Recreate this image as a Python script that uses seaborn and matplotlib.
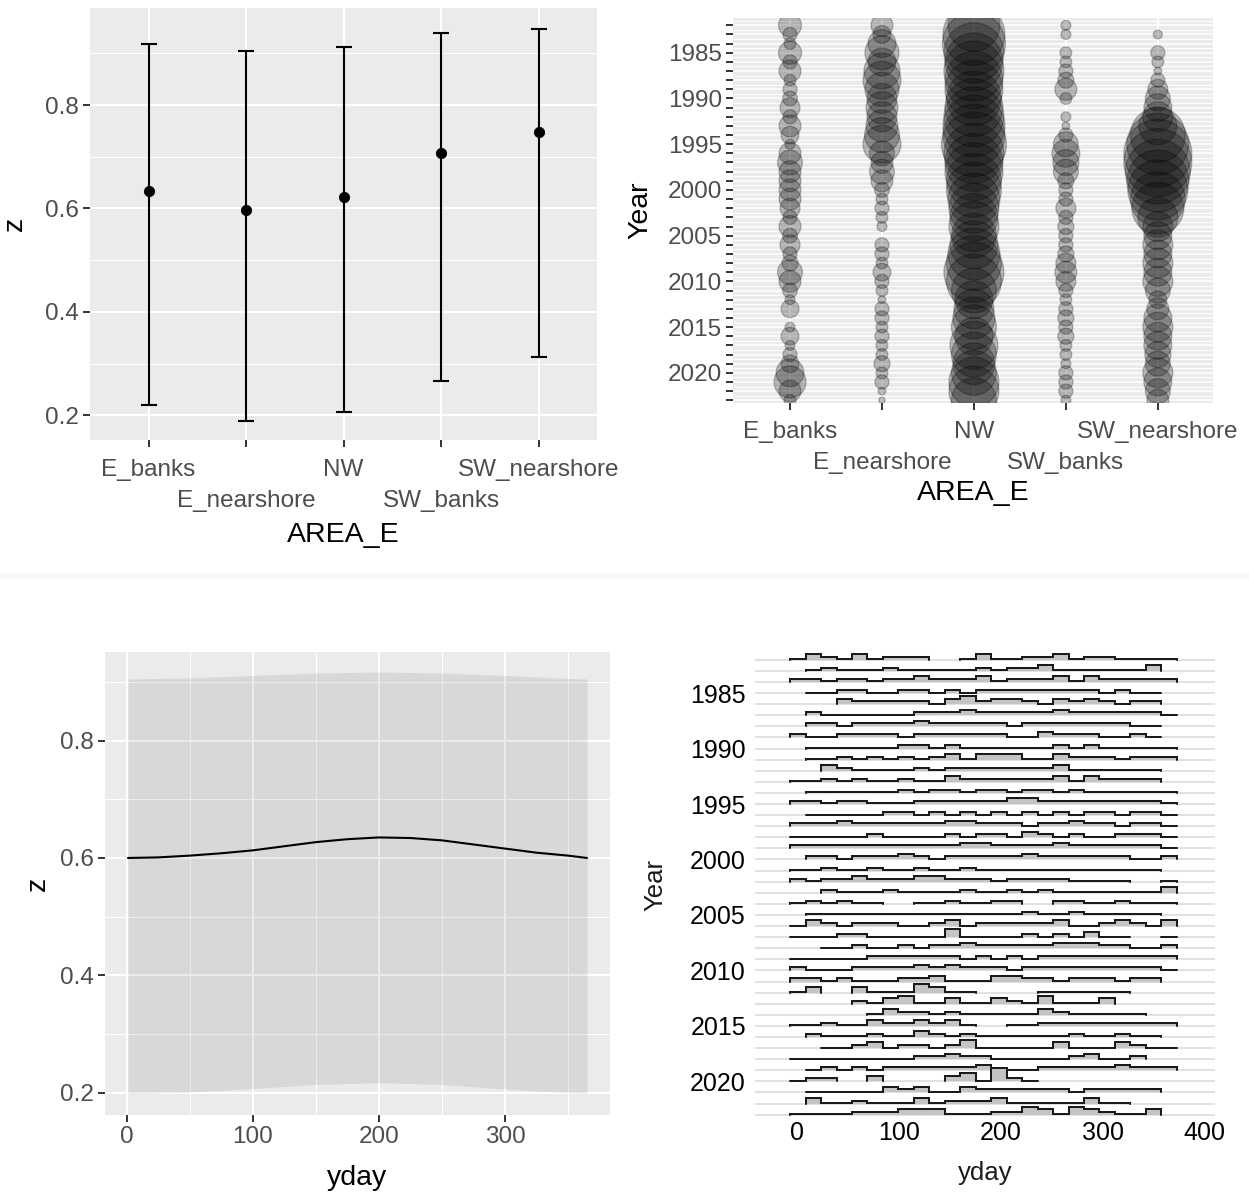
import numpy as np
import pandas as pd
import matplotlib.pyplot as plt
import seaborn as sns
from matplotlib.ticker import MultipleLocator, FixedLocator, FuncFormatter

#==============================================================================
# Data

# top left: mean z per area with interval
areas = ['E_banks', 'E_nearshore', 'NW', 'SW_banks', 'SW_nearshore']
z_mean = [0.634, 0.598, 0.622, 0.708, 0.748]
z_low = [0.219, 0.188, 0.207, 0.266, 0.313]
z_high = [0.918, 0.905, 0.913, 0.940, 0.948]

# top right: bubble value per year for each area (nan = no bubble)
years = list(range(1982, 2024))
nan = np.nan
n_e_banks = [53, 20, 14, 53, 20, 48, 14, 20, 22, 40,
             20, 48, 32, 10, 48, 62, 48, 48, 48, 48,
             40, 20, 48, 22, 40, 20, 26, 62, 48, 22,
             10, 32, nan, 10, 32, 10, 20, 32, 78, 102,
             48, 14]
n_e_nearshore = [48, 32, 78, 116, 78, 130, 144, 116, 90, 102,
                 90, 102, 122, 144, 62, 48, 62, 48, 22, 14,
                 20, 14, 10, nan, 20, 20, 14, 32, 20, 14,
                 6, 20, 20, 14, 20, 14, 14, 26, 14, 20,
                 6, 4]
n_nw = [270, 384, 397, 360, 336, 360, 336, 336, 302, 336,
        360, 384, 384, 422, 360, 336, 336, 302, 302, 270,
        250, 230, 250, 202, 230, 270, 302, 360, 302, 202,
        144, 160, 176, 202, 144, 230, 202, 176, 202, 250,
        250, 202]
n_sw_banks = [10, 10, nan, 14, 14, 20, 26, 48, 14, nan,
              10, 6, 20, 62, 78, 68, 62, 26, 20, 20,
              40, 20, 26, 20, 20, 26, 40, 48, 40, 20,
              14, 20, 26, 20, 26, 14, 14, 10, 20, 20,
              20, 10]
n_sw_nearshore = [nan, 8, nan, 20, 14, 6, 20, 40, 62, 78,
                  90, 144, 302, 384, 462, 462, 422, 384, 360, 302,
                  270, 160, 90, 78, 90, 78, 90, 78, 90, 62,
                  32, 48, 78, 90, 78, 78, 68, 62, 90, 78,
                  62, 48]

# bottom left: seasonal fit and its band
line_yday = [1, 25, 50, 75, 100, 125, 150, 175, 200, 225, 250, 275, 300, 325, 350, 365]
line_z = [0.600, 0.601, 0.604, 0.608, 0.613, 0.620, 0.627, 0.632, 0.635, 0.634,
          0.630, 0.623, 0.616, 0.609, 0.604, 0.600]
band_yday = [1, 50, 100, 150, 200, 250, 300, 350, 365]
band_low = [0.198, 0.201, 0.207, 0.214, 0.217, 0.214, 0.206, 0.200, 0.199]
band_high = [0.905, 0.907, 0.911, 0.915, 0.917, 0.915, 0.911, 0.906, 0.905]

# bottom right: binned yday histogram level per year, 25 bins, '.' = empty bin
ridge_rows = [
    "021020111. .020011201 10000",  # 1982
    ".010001000 0010112000 0002.",
    "1101101121 1120111202 11111",
    ".001100110 1011111111 0100.",
    "...2111110 2312210212 1011.",
    ".100000011 1211111211 11110",
    ".110111121 1111011111 1100.",
    "1001111011 1111002111 0010.",
    ".000000110 1000000101 00000",  # 1990
    ".001010101 2022200211 10111",
    "..21000010 1111111200 0000.",
    "0010100100 2111111202 1111.",
    ".000000101 1011011010 00000",
    "1101100011 1111221111 11110",
    ".000001101 0101010101 10110",
    "1112111111 2211101121 10110",
    "0000010000 1011021010 01110",
    "1111111111 1221111211 11110",
    ".110111210 1111121111 11001",  # 2000
    "0010010010 0100000000 0000.",
    "1011211122 1110111100 00..0",
    "..10001000 0100101000 00002",
    "010100..00 10011..110 01000",
    ".000000000 0000010010 0000.",
    "0210111001 2011111200 12102",
    "0001100000 3000010102 00..0",
    "..00100101 1211111222 11001",
    "0000011111 1010101111 11111",
    "1000111121 2111011111 11110",  # 2010
    "1101000112 0002211011 1011.",
    "02..200032 00....0000 00...",
    "....102300 2002103000 2....",
    ".....02110 1000002100 000..",
    "0010021121 20..001111 11111",
    ".100010021 0100000010 0100.",
    "..00120110 1300000200 02100",
    "0000000011 2110000012 001..",
    ".010101111 1120001111 12111",
    "011..2.... 230510.... .....",  # 2020
    ".000002120 0211111101 1111.",
    ".200100020 1112000002 00...",
    "0000111222 0001132032 1002.",
]

#==============================================================================
# Style

sns.set_theme(style='darkgrid', rc={'axes.facecolor': '#EBEBEB', 'grid.color': 'white',
                                    'figure.facecolor': 'white'})
plt.rcParams['font.family'] = ['Liberation Sans', 'DejaVu Sans']

W, H = 1249, 1196
fig = plt.figure(figsize=(W / 100, H / 100), dpi=100)

# faint band between the two rows of panels
fig.add_artist(plt.Line2D([0, 1], [1 - 575.5 / H] * 2, transform=fig.transFigure,
                          color='#F6F6F6', lw=3))


def add_ax(x0, y0, x1, y1):
    return fig.add_axes([x0 / W, 1 - y1 / H, (x1 - x0) / W, (y1 - y0) / H])


def gg_style(ax):
    for s in ax.spines.values():
        s.set_visible(False)
    ax.tick_params(which='major', bottom=True, left=True, length=5, width=1.4,
                   color='#333333', labelcolor='#4D4D4D', labelsize=17.5, pad=3)
    ax.tick_params(which='minor', bottom=False, left=False, length=0)
    ax.grid(which='major', color='white', lw=1.5)
    ax.grid(which='minor', color='white', lw=0.75)
    ax.set_axisbelow(True)


def area_ticks(ax, pad):
    # two rows of area labels, every other one pushed down
    ax.set_xticks(range(len(areas)))
    ax.set_xticklabels(areas)
    for i, t in enumerate(ax.xaxis.get_major_ticks()):
        t.set_pad(pad if i % 2 == 0 else pad + 22.3)


def labels(ax, xl, yl, box, xl_y, yl_x, size=20.5, color='black'):
    x0, y0, x1, y1 = box
    ax.set_xlabel(xl, fontsize=size, color=color, va='center')
    ax.set_ylabel(yl, fontsize=size, color=color, va='center', ha='center')
    ax.xaxis.set_label_coords(0.5, (y1 - xl_y) / (y1 - y0))
    ax.yaxis.set_label_coords((yl_x - x0) / (x1 - x0), 0.5)


#==============================================================================
# Top left: point + interval per area
box1 = (90, 8, 597, 440)
ax1 = add_ax(*box1)
ax1.errorbar(areas, z_mean,
             yerr=[np.subtract(z_mean, z_low), np.subtract(z_high, z_mean)],
             fmt='none', ecolor='black', elinewidth=1.5, capsize=5.5, capthick=1.5, zorder=2)
sns.scatterplot(x=areas, y=z_mean, ax=ax1, color='black', s=55, edgecolor='black',
                legend=False, zorder=3)
gg_style(ax1)
ax1.set_xlim(-0.6, 4.6)
ax1.set_ylim(0.152, 0.988)
ax1.set_yticks([0.2, 0.4, 0.6, 0.8])
ax1.yaxis.set_minor_locator(FixedLocator([0.3, 0.5, 0.7, 0.9]))
area_ticks(ax1, 8.8)
labels(ax1, 'AREA_E', 'z', box1, 535, 15)

#==============================================================================
# Top right: bubbles per area and year
bub = pd.DataFrame({
    'area': np.repeat(areas, len(years)),
    'Year': years * len(areas),
    'n': n_e_banks + n_e_nearshore + n_nw + n_sw_banks + n_sw_nearshore,
}).dropna()

box2 = (733, 18, 1213, 403)
ax2 = add_ax(*box2)
sns.scatterplot(data=bub, x='area', y='Year', size='n', sizes=(0, 2590), size_norm=(0, 500),
                color='black', alpha=0.25, edgecolor='black', linewidth=0.9,
                legend=False, ax=ax2)
gg_style(ax2)
ax2.set_xlim(-0.62, 4.6)
ax2.set_ylim(2023.3, 1981.2)
ax2.yaxis.set_major_locator(MultipleLocator(1))
ax2.yaxis.set_minor_locator(MultipleLocator(0.5))
ax2.yaxis.set_major_formatter(FuncFormatter(lambda v, p: f'{int(v)}' if int(v) % 5 == 0 else ''))
area_ticks(ax2, 8)
ax2.grid(which='major', axis='y', color='white', lw=1.1)
labels(ax2, 'AREA_E', 'Year', box2, 493, 640)

#==============================================================================
# Bottom left: seasonal curve with band
box3 = (105, 652, 610, 1115)
ax3 = add_ax(*box3)
ax3.fill_between(band_yday, band_low, band_high, color='black', alpha=0.08, lw=0)
sns.lineplot(x=line_yday, y=line_z, color='black', lw=1.5, ax=ax3)
gg_style(ax3)
ax3.set_xlim(-17.2, 383.2)
ax3.set_ylim(0.162, 0.951)
ax3.set_xticks([0, 100, 200, 300])
ax3.xaxis.set_minor_locator(FixedLocator([50, 150, 250, 350]))
ax3.set_yticks([0.2, 0.4, 0.6, 0.8])
ax3.yaxis.set_minor_locator(FixedLocator([0.3, 0.5, 0.7, 0.9]))
labels(ax3, 'yday', 'z', box3, 1178, 38)

#==============================================================================
# Bottom right: stepped ridgelines per year
box4 = (755, 652, 1215, 1118)
ax4 = add_ax(*box4)
ax4.set_facecolor('white')
for s in ax4.spines.values():
    s.set_visible(False)

bw = 364 / 24
edges = np.linspace(1 - bw / 2, 365 + bw / 2, 26)
level_h = 0.23

for i, (yr, row) in enumerate(zip(years, ridge_rows)):
    row = row.replace(' ', '')
    k = 0
    while k < len(row):
        if row[k] == '.':
            k += 1
            continue
        k0 = k
        while k < len(row) and row[k] != '.':
            k += 1
        xs, ys = [edges[k0]], [yr]
        for j in range(k0, k):
            h = yr - (int(row[j]) + 0.2) * level_h
            xs += [edges[j], edges[j + 1]]
            ys += [h, h]
        xs.append(edges[k])
        ys.append(yr)
        ax4.fill(xs, ys, color='#C4C4C4', lw=0, zorder=3 + i * 0.01)
        ax4.plot(xs, ys, color='#1A1A1A', lw=1.45, zorder=3.005 + i * 0.01,
                 solid_joinstyle='miter')

ax4.set_xlim(-41, 410)
ax4.set_ylim(2023.3, 1981.3)
ax4.set_xticks([0, 100, 200, 300, 400])
ax4.set_yticks(list(range(1985, 2021, 5)))
ax4.yaxis.set_minor_locator(MultipleLocator(1))
ax4.grid(False)
ax4.grid(which='both', axis='y', color='#DEDEDE', lw=1.3)
ax4.set_axisbelow(True)
ax4.tick_params(which='both', length=0, labelcolor='black', labelsize=18)
ax4.tick_params(axis='y', pad=6.5)
ax4.tick_params(axis='x', pad=2)
labels(ax4, 'yday', 'Year', box4, 1173, 655, size=18.5, color='#1A1A1A')

fig.savefig('out.png', dpi=100)
